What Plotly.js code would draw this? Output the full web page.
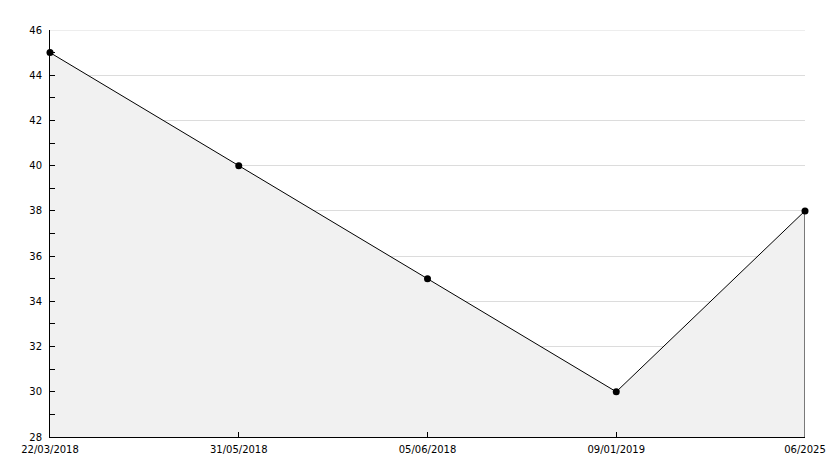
<!DOCTYPE html>
<html><head><meta charset="utf-8">
<script src="https://cdn.plot.ly/plotly-3.0.1.min.js"></script>
<style>html,body{margin:0;padding:0;background:#fff}#chart{width:834px;height:468px}</style>
</head><body><div id="chart"></div>
<script>
const categories = ["22/03/2018", "31/05/2018", "05/06/2018", "09/01/2019", "06/2025"];
const values = [45, 40, 35, 30, 38];
const yMin = 28, yMax = 46;

const lastCat = categories[categories.length - 1];
const lastVal = values[values.length - 1];

const traces = [
  {
    x: categories, y: values, type: "scatter", mode: "lines+markers",
    fill: "tozeroy", fillcolor: "#f1f1f1",
    line: {color: "#000", width: 1},
    marker: {color: "#000", size: 7, symbol: "circle"},
    hoverinfo: "x+y", showlegend: false, cliponaxis: false
  },
  {
    x: [lastCat, lastCat], y: [yMin, lastVal], type: "scatter", mode: "lines",
    line: {color: "#000", width: 1}, hoverinfo: "skip", showlegend: false
  }
];

const layout = {
  width: 834, height: 468,
  margin: {l: 50, r: 29, t: 30, b: 31},
  paper_bgcolor: "#fff", plot_bgcolor: "#fff",
  font: {family: "DejaVu Sans", size: 10, color: "#000"},
  shapes: [{
    type: "line", xref: "paper", x0: 0, x1: 1, yref: "y", y0: yMax, y1: yMax,
    line: {color: "#dcdcdc", width: 1}, layer: "below"
  }],
  xaxis: {
    type: "category", range: [0, categories.length - 1],
    showgrid: false, zeroline: false,
    showline: true, linecolor: "#000", linewidth: 1,
    ticks: "inside", ticklen: 5, tickcolor: "#000",
    ticklabelstandoff: 3,
    tickfont: {family: "DejaVu Sans", size: 10, color: "#000"},
    fixedrange: true
  },
  yaxis: {
    range: [yMin, yMax], dtick: 2, tick0: 28,
    showgrid: true, gridcolor: "#dcdcdc", gridwidth: 1,
    zeroline: false,
    showline: true, linecolor: "#000", linewidth: 1,
    ticks: "inside", ticklen: 5, tickcolor: "#000",
    ticklabelstandoff: 5,
    minor: {dtick: 1, ticks: "inside", ticklen: 5, tickcolor: "#000", showgrid: false},
    tickfont: {family: "DejaVu Sans", size: 10, color: "#000"},
    fixedrange: true
  }
};

Plotly.newPlot("chart", traces, layout, {displayModeBar: false, staticPlot: true});
</script>
</body></html>
